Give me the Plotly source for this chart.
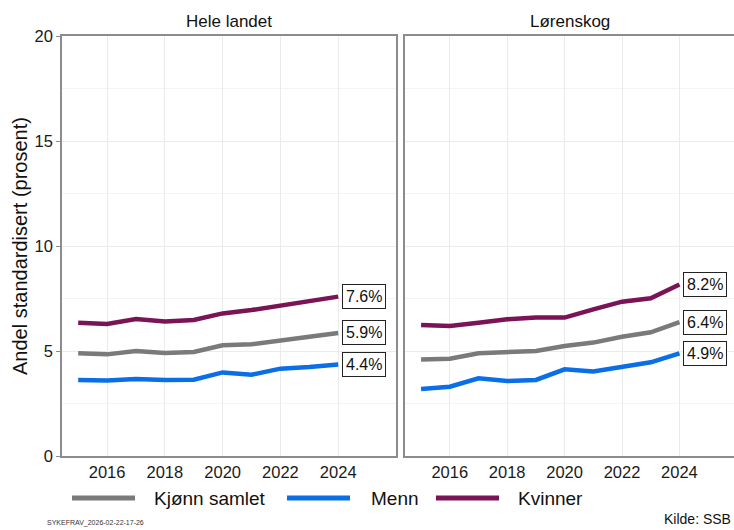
import plotly.graph_objects as go

years = [2015, 2016, 2017, 2018, 2019, 2020, 2021, 2022, 2023, 2024]
panels = ["Hele landet", "Lørenskog"]
series_names = ["Kjønn samlet", "Menn", "Kvinner"]
series_colors = ["#7a7a7a", "#0a6ee6", "#7a1457"]

hele_samlet = [4.89, 4.84, 5.00, 4.90, 4.95, 5.27, 5.32, 5.52, 5.68, 5.86]
hele_menn = [3.62, 3.60, 3.67, 3.62, 3.63, 3.98, 3.87, 4.16, 4.24, 4.36]
hele_kvinner = [6.35, 6.29, 6.52, 6.40, 6.48, 6.79, 6.95, 7.16, 7.37, 7.59]

lor_samlet = [4.60, 4.63, 4.89, 4.92, 5.00, 5.24, 5.40, 5.68, 5.89, 6.37]
lor_menn = [3.19, 3.30, 3.70, 3.57, 3.62, 4.13, 4.02, 4.25, 4.46, 4.89]
lor_kvinner = [6.24, 6.19, 6.35, 6.51, 6.59, 6.59, 6.98, 7.35, 7.51, 8.17]

x_ticks = [2016, 2018, 2020, 2022, 2024]
y_ticks = [0, 5, 10, 15, 20]

y_title = "Andel standardisert (prosent)"
footer_left = "SYKEFRAV_2026-02-22-17-26"
footer_right = "Kilde: SSB"

panel_data = [
    [hele_samlet, hele_menn, hele_kvinner],
    [lor_samlet, lor_menn, lor_kvinner],
]

W, H = 734, 530
FONT = "Liberation Sans, Arial, sans-serif"
FRAME = "#8c8c8c"
GRID = "#ebebeb"

def px_x(p):
    return p / W

def px_y(p):
    return 1 - p / H

fig = go.Figure()

axis_suffix = ["", "2"]
for pi, series in enumerate(panel_data):
    for si, vals in enumerate(series):
        fig.add_trace(go.Scatter(
            x=years, y=vals, mode="lines", name=series_names[si],
            line=dict(color=series_colors[si], width=4.5),
            xaxis="x" + axis_suffix[pi], yaxis="y" + axis_suffix[pi],
            showlegend=False, hoverinfo="skip",
        ))
        fig.add_annotation(
            x=years[-1], y=vals[-1],
            xref="x" + axis_suffix[pi], yref="y" + axis_suffix[pi],
            text=f"{vals[-1]:.1f}%", showarrow=False,
            xanchor="left", yanchor="middle", xshift=4,
            font=dict(family=FONT, size=16, color="#111111"),
            bordercolor="#222222", borderwidth=1, borderpad=3,
            bgcolor="white",
        )

common_x = dict(
    tickvals=x_ticks, showgrid=True, gridcolor=GRID, gridwidth=1,
    showline=True, linecolor=FRAME, linewidth=1.5, mirror=True,
    ticks="", zeroline=False, automargin=False,
    tickfont=dict(family=FONT, size=16.5, color="#1a1a1a"),
)
common_y = dict(
    range=[0, 20], tickvals=y_ticks, showgrid=True, gridcolor=GRID, gridwidth=1,
    minor=dict(dtick=2.5, tick0=0, showgrid=True, gridcolor="#f4f4f4", gridwidth=0.7, ticks=""),
    showline=True, linecolor=FRAME, linewidth=1.5, zeroline=False, automargin=False,
    domain=[px_y(456), px_y(36)],
)

fig.update_layout(
    width=W, height=H,
    margin=dict(l=0, r=0, t=0, b=0, pad=0, autoexpand=False),
    paper_bgcolor="white", plot_bgcolor="white",
    font=dict(family=FONT, color="#111111"),
    xaxis=dict(domain=[px_x(62), px_x(396)], range=[2014.44, 2026.0], anchor="y", **common_x),
    xaxis2=dict(domain=[px_x(405), 1.0], range=[2014.44, 2025.9], anchor="y2", **common_x),
    yaxis=dict(anchor="x", mirror=True, ticks="outside", ticklen=4, tickcolor=FRAME,
               tickfont=dict(family=FONT, size=16.5, color="#1a1a1a"), **common_y),
    yaxis2=dict(anchor="x2", mirror=False, ticks="", showticklabels=False, **common_y),
    showlegend=False,
)

# Facet titles
for title, cx in zip(panels, [229, 570]):
    fig.add_annotation(x=px_x(cx), y=px_y(22), xref="paper", yref="paper",
                       text=title, showarrow=False, xanchor="center", yanchor="middle",
                       font=dict(family=FONT, size=17, color="#111111"))

# Y axis title
fig.add_annotation(x=px_x(20), y=px_y(246), xref="paper", yref="paper",
                   text=y_title, textangle=-90, showarrow=False,
                   xanchor="center", yanchor="middle",
                   font=dict(family=FONT, size=20, color="#111111"))

# Manual legend
leg_y = px_y(498)
leg_line_x = [(72, 135), (287, 350), (436, 499)]
leg_text_x = [152, 369, 516]
for name, color, (x0, x1), tx in zip(series_names, series_colors, leg_line_x, leg_text_x):
    fig.add_shape(type="line", xref="paper", yref="paper",
                  x0=px_x(x0), x1=px_x(x1), y0=leg_y, y1=leg_y,
                  line=dict(color=color, width=5))
    fig.add_annotation(x=px_x(tx), y=leg_y, xref="paper", yref="paper",
                       text=name, showarrow=False, xanchor="left", yanchor="middle",
                       font=dict(family=FONT, size=19, color="#111111"))

# Footers
fig.add_annotation(x=px_x(45), y=px_y(523), xref="paper", yref="paper",
                   text=footer_left, showarrow=False, xanchor="left", yanchor="middle",
                   font=dict(family=FONT, size=7, color="#333333"))
fig.add_annotation(x=px_x(733), y=px_y(529), xref="paper", yref="paper",
                   text=footer_right, showarrow=False, xanchor="right", yanchor="bottom",
                   font=dict(family=FONT, size=14, color="#111111"))

fig.write_html("out.html", config={"displayModeBar": False},
               post_script="document.body.style.margin='0px';document.body.style.overflow='hidden';")
